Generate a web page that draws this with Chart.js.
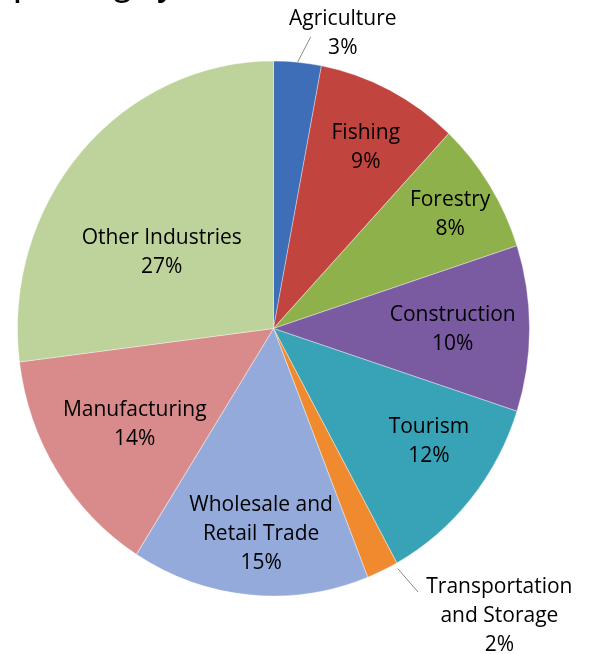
<!DOCTYPE html>
<html>
<head>
<meta charset="utf-8">
<script src="https://cdn.jsdelivr.net/npm/chart.js@4"></script>
<style>
  html, body { margin: 0; padding: 0; background: #fff; }
  #wrap { width: 590px; height: 654px; }
</style>
</head>
<body>
<div id="wrap"><canvas id="sectorChart"></canvas></div>
<script>
const sectors = ['Agriculture', 'Fishing', 'Forestry', 'Construction', 'Tourism',
  'Transportation and Storage', 'Wholesale and Retail Trade', 'Manufacturing', 'Other Industries'];
const shares = [3, 9, 8, 10, 12, 2, 15, 14, 27];
const sectorColors = ['#3d6eb7', '#c1443f', '#8eb14b', '#7a5aa0', '#38a2b6',
  '#ef8a2f', '#93aadb', '#d98b8b', '#bdd39b'];

// text drawn for each slice (name lines, the percent gets added underneath)
const labelLines = [['Agriculture'], ['Fishing'], ['Forestry'], ['Construction'], ['Tourism'],
  ['Transportation', 'and Storage'], ['Wholesale and', 'Retail Trade'], ['Manufacturing'], ['Other Industries']];

// label spot per slice: [fraction of radius, degrees nudged off the slice middle]
const labelSpots = [[1.135, 8.4], [0.768, 1], [0.81, 0.8], [0.70, 0.2], [0.74, -4.7],
  [1.39, -14.2], [0.77, -1.8], [0.65, -1.1], [0.52, -8.5]];
// leader lines for the thin slices: [startFrac, startNudge, endFrac, endNudge]
const leaders = { 0: [1.0, 0, 1.10, 2.2], 5: [1.02, -3.2, 1.135, -4.6] };

const Y_STRETCH = 1.045; // pie is a bit taller than wide
const LINE_H = 29;
const FONT = '21px "Open Sans"';

function spot(arc, frac, nudge) {
  const a = (arc.startAngle + arc.endAngle) / 2 + nudge * Math.PI / 180;
  const r = arc.outerRadius * frac;
  return { x: arc.x + Math.cos(a) * r, y: arc.y + Math.sin(a) * r * Y_STRETCH };
}

const stretchPie = {
  id: 'stretchPie',
  beforeDatasetsDraw(chart) {
    const arc = chart.getDatasetMeta(0).data[0];
    const ctx = chart.ctx;
    ctx.save();
    ctx.translate(arc.x, arc.y);
    ctx.scale(1, Y_STRETCH);
    ctx.translate(-arc.x, -arc.y);
  },
  afterDatasetsDraw(chart) {
    chart.ctx.restore();
  }
};

const sliceLabels = {
  id: 'sliceLabels',
  afterDraw(chart) {
    const ctx = chart.ctx;
    const arcs = chart.getDatasetMeta(0).data;
    ctx.save();

    // title sits above the top edge, only its descenders show
    ctx.fillStyle = '#000';
    ctx.font = '600 30px "Open Sans"';
    ctx.textAlign = 'left';
    ctx.textBaseline = 'alphabetic';
    const w = ctx.measureText('Spending').width;
    ctx.fillText('Spending by Sector', 131 - w, -4);

    ctx.strokeStyle = '#8a8a8a';
    ctx.lineWidth = 1;
    Object.keys(leaders).forEach(i => {
      const [f0, n0, f1, n1] = leaders[i];
      const p0 = spot(arcs[i], f0, n0);
      const p1 = spot(arcs[i], f1, n1);
      ctx.beginPath();
      ctx.moveTo(p0.x, p0.y);
      ctx.lineTo(p1.x, p1.y);
      ctx.stroke();
    });

    ctx.font = FONT;
    ctx.fillStyle = '#000';
    ctx.textAlign = 'center';
    ctx.textBaseline = 'middle';
    arcs.forEach((arc, i) => {
      const lines = labelLines[i].concat([shares[i] + '%']);
      const p = spot(arc, labelSpots[i][0], labelSpots[i][1]);
      const top = p.y - (lines.length - 1) * LINE_H / 2;
      lines.forEach((t, j) => ctx.fillText(t, p.x, top + j * LINE_H));
    });
    ctx.restore();
  }
};

new Chart(document.getElementById('sectorChart'), {
  type: 'pie',
  data: {
    labels: sectors,
    datasets: [{
      data: shares,
      backgroundColor: sectorColors,
      borderColor: 'rgba(255,255,255,0.35)',
      borderWidth: 1
    }]
  },
  options: {
    responsive: true,
    maintainAspectRatio: false,
    animation: false,
    layout: { padding: { left: 17, right: 60, top: 72, bottom: 69 } },
    plugins: {
      legend: { display: false },
      tooltip: { enabled: false }
    }
  },
  plugins: [stretchPie, sliceLabels]
});
</script>
</body>
</html>
